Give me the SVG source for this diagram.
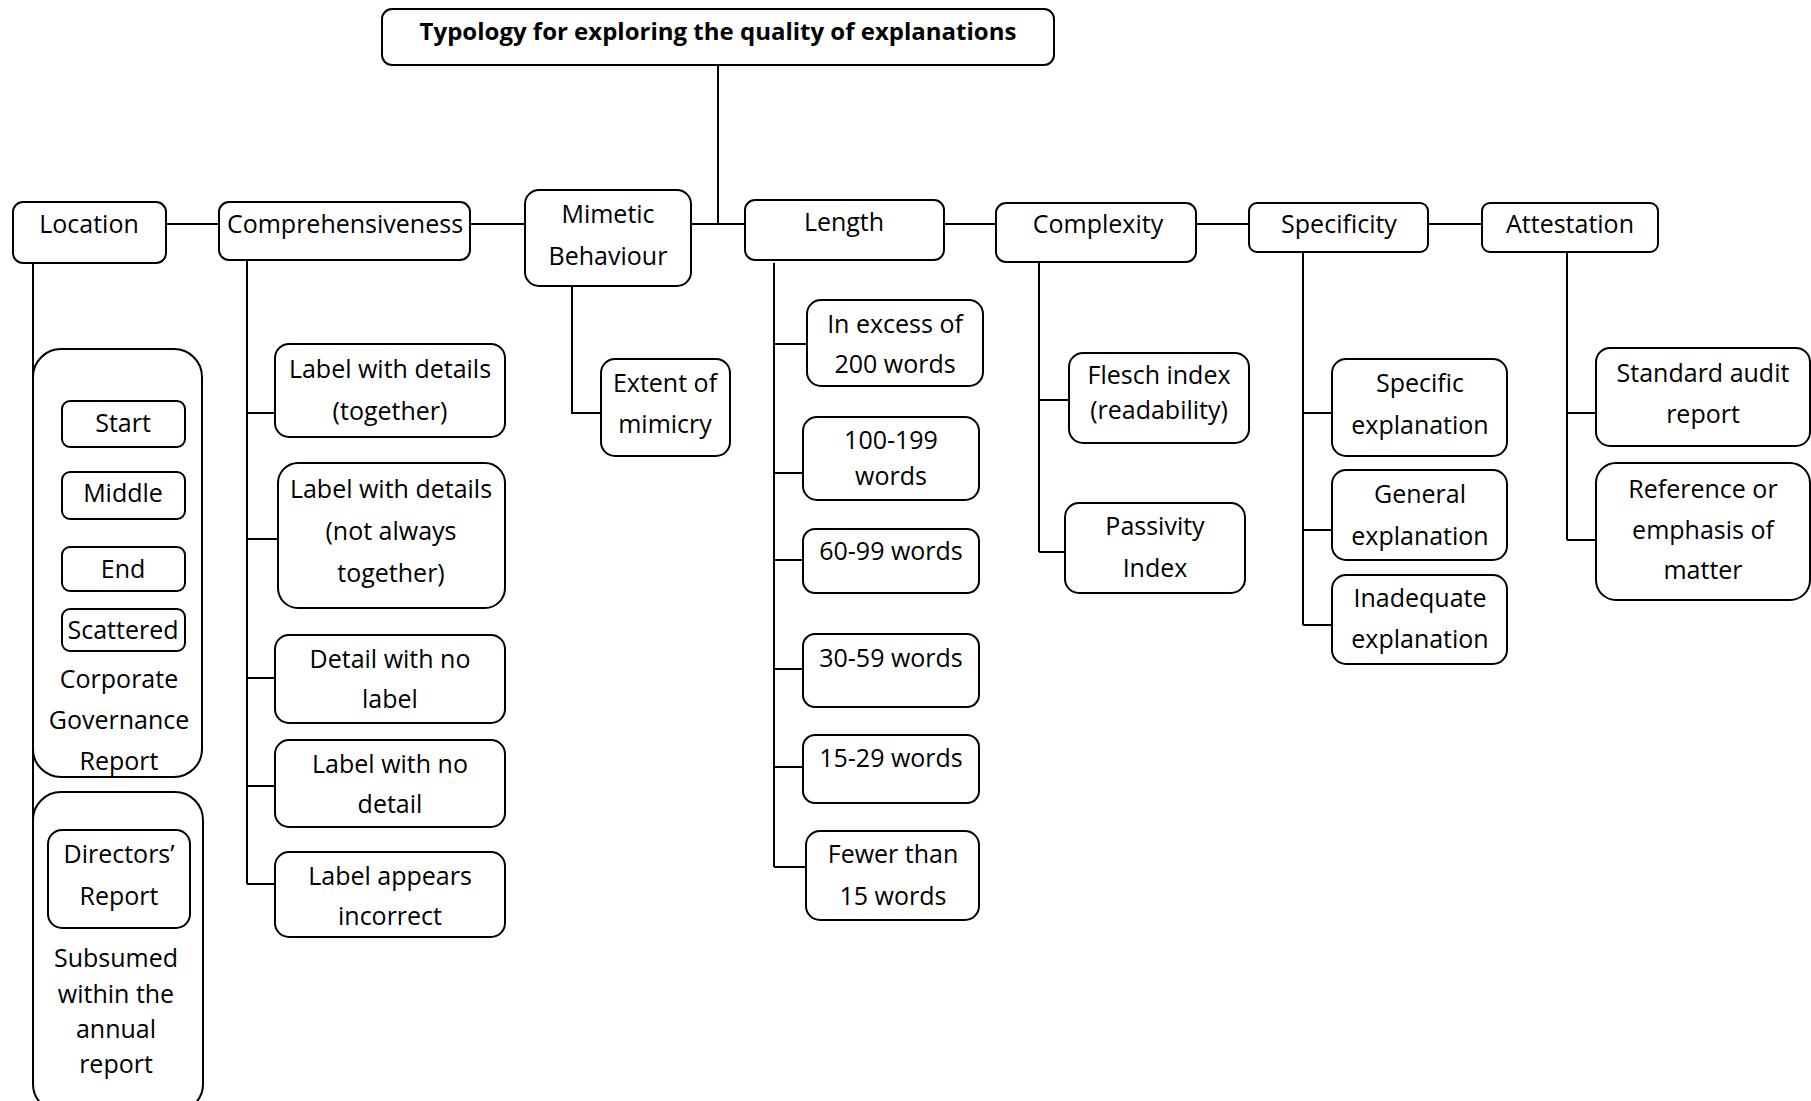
<svg xmlns="http://www.w3.org/2000/svg" width="1811" height="1101" viewBox="0 0 1811 1101">
<style>
rect{fill:#fff;stroke:#000;stroke-width:2}
.c line,.c path{stroke:#000;stroke-width:2;fill:none}
text{font-family:"Open Sans","Liberation Sans",sans-serif;font-size:25px;text-anchor:middle;fill:#000}
.t{font-weight:bold;font-size:24px}
</style>
<rect x="0" y="0" width="1811" height="1101" style="stroke:none"/>
<g class="c" id="connectors">
<line x1="718" y1="66" x2="718" y2="224"/>
<line x1="166" y1="224" x2="219" y2="224"/>
<line x1="470" y1="224" x2="525" y2="224"/>
<line x1="691" y1="224" x2="745" y2="224"/>
<line x1="943" y1="224" x2="996" y2="224"/>
<line x1="1195" y1="224" x2="1249" y2="224"/>
<line x1="1428" y1="224" x2="1482" y2="224"/>
<path d="M33 263V921"/>
<path d="M33 424H62M33 494H62M33 571H62M33 633H62M33 921H48"/>
<path d="M247 260V884M247 413H275M247 539H278M247 678H275M247 786H275M247 884H275"/>
<path d="M572 287V413H601"/>
<path d="M774 263V867M774 344H807M774 473H803M774 560H803M774 669H803M774 767H803M774 867H806"/>
<path d="M1039 262V552M1039 400H1069M1039 552H1065"/>
<path d="M1303 252V625M1303 413H1332M1303 530H1332M1303 625H1332"/>
<path d="M1567 252V540M1567 413H1596M1567 540H1596"/>
</g>
<g id="title"><rect x="382" y="9" width="672" height="56" rx="10"/><text class="t" x="718" y="40">Typology for exploring the quality of explanations</text></g>
<g id="location"><rect x="13" y="202" width="153" height="61" rx="10"/><text x="89" y="233">Location</text></g>
<g id="comprehensiveness"><rect x="219" y="202" width="251" height="58" rx="10"/><text x="345" y="233">Comprehensiveness</text></g>
<g id="mimetic"><rect x="525" y="190" width="166" height="96" rx="14"/><text x="608" y="223">Mimetic</text><text x="608" y="265">Behaviour</text></g>
<g id="length"><rect x="745" y="200" width="199" height="60" rx="10"/><text x="844" y="231">Length</text></g>
<g id="complexity"><rect x="996" y="203" width="200" height="59" rx="10"/><text x="1098" y="233">Complexity</text></g>
<g id="specificity"><rect x="1249" y="203" width="179" height="49" rx="8"/><text x="1339" y="233">Specificity</text></g>
<g id="attestation"><rect x="1482" y="203" width="176" height="49" rx="8"/><text x="1570" y="233">Attestation</text></g>
<g id="cgr"><rect x="33" y="349" width="169" height="428" rx="28"/><text x="119" y="688">Corporate</text><text x="119" y="729">Governance</text><text x="119" y="770">Report</text></g>
<g id="start"><rect x="62" y="401" width="123" height="46" rx="8"/><text x="123" y="432">Start</text></g>
<g id="middle"><rect x="62" y="472" width="123" height="47" rx="8"/><text x="123" y="502">Middle</text></g>
<g id="end"><rect x="62" y="547" width="123" height="44" rx="8"/><text x="123" y="578">End</text></g>
<g id="scattered"><rect x="62" y="609" width="123" height="42" rx="8"/><text x="123" y="639">Scattered</text></g>
<g id="subsumed"><rect x="33" y="792" width="170" height="320" rx="28"/><text x="116" y="967">Subsumed</text><text x="116" y="1003">within the</text><text x="116" y="1038">annual</text><text x="116" y="1073">report</text></g>
<g id="directors"><rect x="48" y="830" width="142" height="98" rx="14"/><text x="119" y="863">Directors’</text><text x="119" y="905">Report</text></g>
<g id="lwd-together"><rect x="275" y="344" width="230" height="93" rx="14"/><text x="390" y="378">Label with details</text><text x="390" y="420">(together)</text></g>
<g id="lwd-notalways"><rect x="278" y="463" width="227" height="145" rx="20"/><text x="391" y="498">Label with details</text><text x="391" y="540">(not always</text><text x="391" y="582">together)</text></g>
<g id="detail-nolabel"><rect x="275" y="635" width="230" height="88" rx="14"/><text x="390" y="668">Detail with no</text><text x="390" y="708">label</text></g>
<g id="label-nodetail"><rect x="275" y="740" width="230" height="87" rx="14"/><text x="390" y="773">Label with no</text><text x="390" y="813">detail</text></g>
<g id="label-incorrect"><rect x="275" y="852" width="230" height="85" rx="14"/><text x="390" y="885">Label appears</text><text x="390" y="925">incorrect</text></g>
<g id="extent"><rect x="601" y="359" width="129" height="97" rx="14"/><text x="665" y="392">Extent of</text><text x="665" y="433">mimicry</text></g>
<g id="excess200"><rect x="807" y="300" width="176" height="86" rx="14"/><text x="895" y="333">In excess of</text><text x="895" y="373">200 words</text></g>
<g id="w100"><rect x="803" y="417" width="176" height="83" rx="14"/><text x="891" y="449">100-199</text><text x="891" y="485">words</text></g>
<g id="w60"><rect x="803" y="529" width="176" height="64" rx="12"/><text x="891" y="560">60-99 words</text></g>
<g id="w30"><rect x="803" y="634" width="176" height="73" rx="12"/><text x="891" y="667">30-59 words</text></g>
<g id="w15"><rect x="803" y="735" width="176" height="68" rx="12"/><text x="891" y="767">15-29 words</text></g>
<g id="fewer15"><rect x="806" y="831" width="173" height="89" rx="14"/><text x="893" y="863">Fewer than</text><text x="893" y="905">15 words</text></g>
<g id="flesch"><rect x="1069" y="353" width="180" height="90" rx="14"/><text x="1159" y="384">Flesch index</text><text x="1159" y="419">(readability)</text></g>
<g id="passivity"><rect x="1065" y="503" width="180" height="90" rx="14"/><text x="1155" y="535">Passivity</text><text x="1155" y="577">Index</text></g>
<g id="specific"><rect x="1332" y="359" width="175" height="97" rx="14"/><text x="1420" y="392">Specific</text><text x="1420" y="434">explanation</text></g>
<g id="general"><rect x="1332" y="470" width="175" height="90" rx="14"/><text x="1420" y="503">General</text><text x="1420" y="545">explanation</text></g>
<g id="inadequate"><rect x="1332" y="575" width="175" height="89" rx="14"/><text x="1420" y="607">Inadequate</text><text x="1420" y="648">explanation</text></g>
<g id="standard"><rect x="1596" y="348" width="214" height="98" rx="14"/><text x="1703" y="382">Standard audit</text><text x="1703" y="423">report</text></g>
<g id="reference"><rect x="1596" y="463" width="214" height="137" rx="20"/><text x="1703" y="498">Reference or</text><text x="1703" y="539">emphasis of</text><text x="1703" y="579">matter</text></g>
</svg>
